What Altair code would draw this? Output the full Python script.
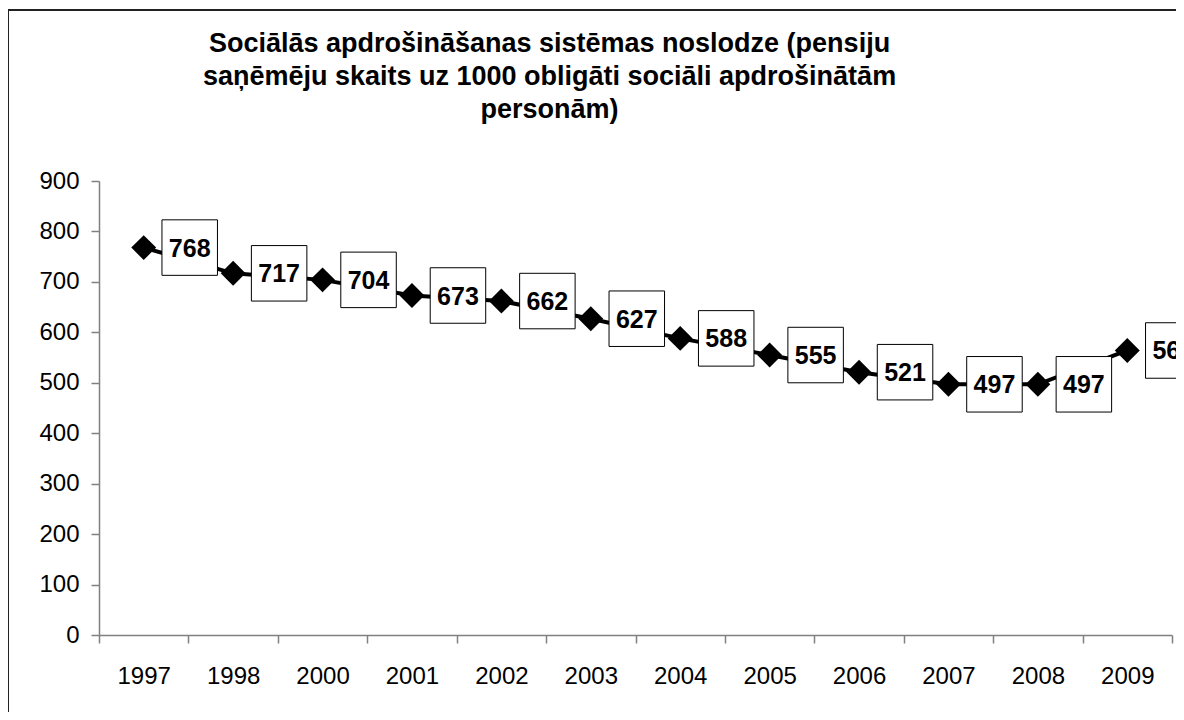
import altair as alt
import pandas as pd

years = ["1997", "1998", "2000", "2001", "2002", "2003", "2004", "2005", "2006", "2007", "2008", "2009"]
values = [768, 717, 704, 673, 662, 627, 588, 555, 521, 497, 497, 564]
title_lines = [
    "Sociālās apdrošināšanas sistēmas noslodze (pensiju",
    "saņēmēju skaits uz 1000 obligāti sociāli apdrošinātām",
    "personām)",
]
y_ticks = [0, 100, 200, 300, 400, 500, 600, 700, 800, 900]

n = len(years)
df = pd.DataFrame({"year": years, "value": values, "pos": [i + 0.5 for i in range(n)]})

W, H = 1073, 454
FONT = "Liberation Sans"

label_expr = (
    "datum.value % 1 === 0 ? '' : ["
    + ",".join("'" + y + "'" for y in years)
    + "][floor(datum.value)]"
)

x_enc = alt.X(
    "pos:Q",
    scale=alt.Scale(domain=[0, n], nice=False, zero=False),
    axis=alt.Axis(
        values=[i * 0.5 for i in range(2 * n + 1)],
        labelExpr=label_expr,
        title=None,
        grid=False,
        labelOverlap=False,
        labelFlush=False,
        labelBound=False,
        tickSize=8,
        tickColor="#808080",
        tickWidth=1.5,
        tickOpacity={"condition": {"test": "datum.value % 1 === 0", "value": 1}, "value": 0},
        domainColor="#808080",
        domainWidth=1.5,
        labelFont=FONT,
        labelFontSize=24,
        labelColor="black",
        labelPadding=21,
    ),
)
y_enc = alt.Y(
    "value:Q",
    scale=alt.Scale(domain=[0, 900], nice=False),
    axis=alt.Axis(
        values=y_ticks,
        title=None,
        grid=False,
        tickSize=8,
        tickColor="#808080",
        tickWidth=1.5,
        domainColor="#808080",
        domainWidth=1.5,
        labelFont=FONT,
        labelFontSize=24,
        labelColor="black",
        labelPadding=12,
    ),
)

base = alt.Chart(df).encode(x=x_enc, y=y_enc)

line = base.mark_line(color="black", strokeWidth=4)
diamonds = base.mark_point(shape="diamond", filled=True, color="black", size=620, opacity=1)
boxes = base.mark_point(
    shape="square", fill="white", stroke="black", strokeWidth=1,
    fillOpacity=1, strokeOpacity=1, opacity=1, size=3080, xOffset=46,
)
labels = base.mark_text(
    font=FONT, fontSize=25, fontWeight="bold", color="black",
    dx=46, dy=1, align="center", baseline="middle",
).encode(text="value:Q")

frame_df = pd.DataFrame({"k": [0]})
left_border = alt.Chart(frame_df).mark_rule(color="#222222", strokeWidth=2).encode(
    x=alt.value(-91), y=alt.value(-171), y2=alt.value(H + 90)
)
top_border = alt.Chart(frame_df).mark_rule(color="#222222", strokeWidth=2).encode(
    x=alt.value(-92), x2=alt.value(W + 10), y=alt.value(-171)
)

chart = (
    alt.layer(left_border, top_border, line, diamonds, boxes, labels)
    .properties(
        width=W,
        height=H,
        background="white",
        autosize=alt.AutoSizeParams(type="none"),
        padding={"left": 91, "top": 173, "right": 4, "bottom": 77},
        title=alt.TitleParams(
            text=title_lines,
            font=FONT,
            fontSize=27,
            fontWeight="bold",
            color="black",
            anchor="middle",
            frame="group",
            dx=-86,
            dy=115,
            lineHeight=33,
            offset=0,
        ),
    )
    .configure_view(stroke="transparent", strokeWidth=0)
)

chart.save("out.html", embed_options={"renderer": "svg", "actions": False})
